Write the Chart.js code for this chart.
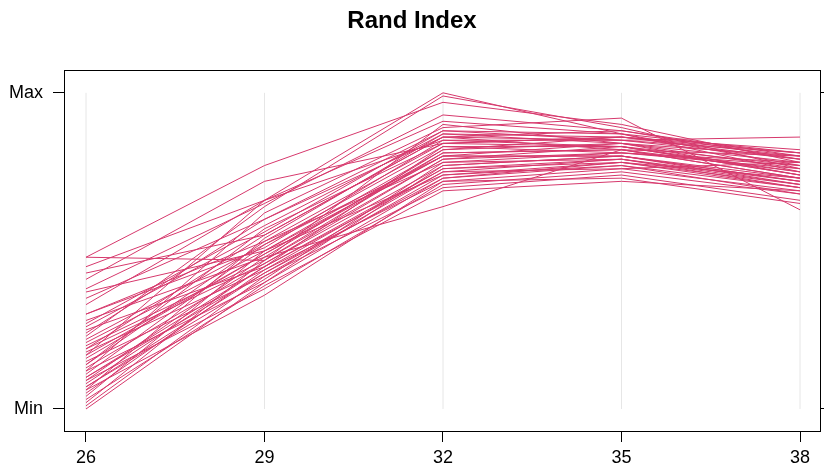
<!DOCTYPE html>
<html>
<head>
<meta charset="utf-8">
<script src="https://cdn.jsdelivr.net/npm/chart.js@4/dist/chart.umd.min.js"></script>
<style>
  html, body { margin: 0; padding: 0; background: #fff; }
  #wrap { width: 824px; height: 468px; }
</style>
</head>
<body>
<div id="wrap"><canvas id="c" width="824" height="468"></canvas></div>
<script>
// axis positions (variables) and scaled values (0 = Min, 1 = Max) per line
const axes = [26, 29, 32, 35, 38];
const at26 = [0.48, 0.48, 0.45, 0.43, 0.41, 0.38, 0.37, 0.35, 0.33, 0.30, 0.28, 0.27, 0.25, 0.23, 0.22, 0.21,
              0.20, 0.19, 0.18, 0.17, 0.16, 0.15, 0.14, 0.13, 0.12, 0.12, 0.11, 0.10, 0.09, 0.09, 0.08, 0.07,
              0.06, 0.06, 0.05, 0.04, 0.03, 0.02, 0.01, 0.00, 0.30, 0.26, 0.19, 0.14, 0.07, 0.24, 0.17, 0.10];
const at29 = [0.47, 0.77, 0.66, 0.55, 0.72, 0.65, 0.50, 0.60, 0.66, 0.53, 0.48, 0.58, 0.45, 0.64, 0.52, 0.50,
              0.47, 0.55, 0.44, 0.66, 0.49, 0.42, 0.57, 0.46, 0.40, 0.62, 0.52, 0.43, 0.48, 0.38, 0.45, 0.41,
              0.36, 0.54, 0.44, 0.50, 0.39, 0.47, 0.42, 0.40, 0.51, 0.56, 0.46, 0.53, 0.43, 0.60, 0.49, 0.45];
const at32 = [0.90, 0.97, 1.00, 0.86, 0.84, 0.93, 0.80, 0.88, 0.85, 0.78, 0.82, 0.87, 0.76, 0.99, 0.83, 0.74,
              0.79, 0.86, 0.72, 0.91, 0.81, 0.70, 0.84, 0.77, 0.73, 0.89, 0.80, 0.75, 0.64, 0.71, 0.83, 0.78,
              0.72, 0.87, 0.76, 0.82, 0.69, 0.81, 0.74, 0.77, 0.85, 0.88, 0.79, 0.84, 0.73, 0.86, 0.80, 0.75];
const at35 = [0.84, 0.90, 0.87, 0.82, 0.86, 0.88, 0.80, 0.85, 0.83, 0.79, 0.86, 0.84, 0.78, 0.89, 0.81, 0.77,
              0.83, 0.85, 0.76, 0.87, 0.82, 0.74, 0.86, 0.80, 0.78, 0.92, 0.84, 0.79, 0.82, 0.75, 0.83, 0.81,
              0.73, 0.86, 0.79, 0.84, 0.72, 0.82, 0.78, 0.80, 0.85, 0.87, 0.81, 0.83, 0.77, 0.88, 0.80, 0.76];
const at38 = [0.80, 0.78, 0.75, 0.73, 0.81, 0.79, 0.72, 0.86, 0.77, 0.70, 0.80, 0.74, 0.71, 0.76, 0.78, 0.68,
              0.75, 0.81, 0.69, 0.77, 0.73, 0.66, 0.79, 0.72, 0.70, 0.63, 0.76, 0.71, 0.80, 0.68, 0.74, 0.77,
              0.65, 0.82, 0.72, 0.78, 0.69, 0.75, 0.73, 0.71, 0.79, 0.81, 0.76, 0.74, 0.70, 0.80, 0.73, 0.78];
const yTickLabels = {0: 'Min', 1: 'Max'};

const lineColor = 'rgb(214,56,108)';
const font = "'Liberation Sans', Arial, Helvetica, sans-serif";

const datasets = [];
// light reference lines at each variable
axes.forEach(a => {
  datasets.push({
    data: [{x: a, y: 0}, {x: a, y: 1}],
    borderColor: '#e6e6e6', borderWidth: 1, pointRadius: 0, order: 2
  });
});
const cols = [at26, at29, at32, at35, at38];
for (let i = 0; i < at26.length; i++) {
  datasets.push({
    data: axes.map((a, j) => ({x: a, y: cols[j][i]})),
    borderColor: lineColor, borderWidth: 1, pointRadius: 0, tension: 0, order: 1
  });
}

const boxPlugin = {
  id: 'box',
  afterDraw(chart) {
    const {ctx, chartArea: ca} = chart;
    ctx.save();
    ctx.strokeStyle = '#000';
    ctx.lineWidth = 1;
    ctx.strokeRect(Math.round(ca.left) + 0.5, Math.round(ca.top) + 0.5,
                   Math.round(ca.right - ca.left), Math.round(ca.bottom - ca.top));
    ctx.restore();
  }
};

new Chart(document.getElementById('c'), {
  type: 'line',
  data: { datasets },
  options: {
    responsive: false,
    animation: false,
    events: [],
    layout: { padding: 0 },
    plugins: {
      legend: { display: false },
      tooltip: { enabled: false },
      title: {
        display: true,
        text: 'Rand Index',
        color: '#000',
        font: { family: font, size: 24, weight: 'bold' },
        padding: { top: 7, bottom: 34 }
      }
    },
    scales: {
      x: {
        type: 'linear',
        min: 26 - 22 / 59.5,
        max: 38 + 20 / 59.5,
        afterBuildTicks: s => { s.ticks = axes.map(v => ({value: v})); },
        afterFit: s => { s.height = 37; },
        grid: { drawOnChartArea: false, drawTicks: true, tickLength: 11, color: '#000' },
        border: { display: false },
        ticks: { color: '#000', padding: 5, font: { family: font, size: 18 }, maxRotation: 0 }
      },
      y: {
        min: -22 / 316,
        max: 1 + 23 / 316,
        afterBuildTicks: s => { s.ticks = [{value: 0}, {value: 1}]; },
        afterFit: s => { s.width = 64; },
        grid: { drawOnChartArea: false, drawTicks: true, tickLength: 11, color: '#000' },
        border: { display: false },
        ticks: { color: '#000', padding: 10, font: { family: font, size: 18 },
                 callback: v => yTickLabels[v] }
      },
      y2: {
        position: 'right',
        min: -22 / 316,
        max: 1 + 23 / 316,
        afterBuildTicks: s => { s.ticks = [{value: 0}, {value: 1}]; },
        afterFit: s => { s.width = 4; },
        grid: { drawOnChartArea: false, drawTicks: true, tickLength: 11, color: '#000' },
        border: { display: false },
        ticks: { display: true, padding: 0, callback: () => '' }
      }
    }
  },
  plugins: [boxPlugin]
});
</script>
</body>
</html>
